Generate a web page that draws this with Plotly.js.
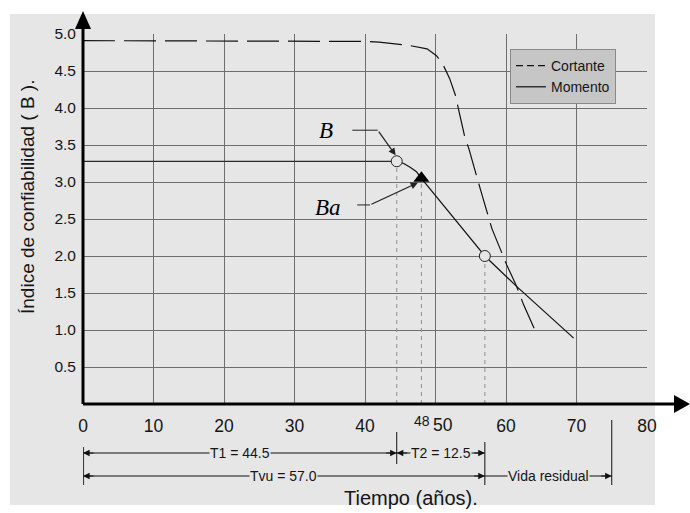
<!DOCTYPE html>
<html><head><meta charset="utf-8">
<script src="https://cdn.plot.ly/plotly-3.0.1.min.js"></script>
<style>html,body{margin:0;padding:0;background:#fff}#chart{width:690px;height:513px}</style>
</head><body><div id="chart"></div>
<script>
// ---- data ----
const cortanteX = [0, 10, 20, 30, 38, 40, 42, 44.5, 46, 48.8, 50.1, 51.0, 52.0, 52.8, 53.1, 54.2, 54.7, 55.9, 56.4, 58.0, 60.1, 61.5, 62.5, 64.1];
const cortanteY = [4.91, 4.91, 4.91, 4.91, 4.91, 4.90, 4.89, 4.87, 4.85, 4.80, 4.71, 4.60, 4.40, 4.18, 4.05, 3.59, 3.46, 3.03, 2.89, 2.37, 1.88, 1.59, 1.34, 1.00];
const momentoX = [44.5, 45.5, 46.4, 47.3, 48, 50.6, 57, 61.5, 69.6];
const momentoY = [3.28, 3.25, 3.20, 3.14, 3.05, 2.75, 2.00, 1.59, 0.89];
const T1 = 44.5;          // años
const T2 = 12.5;          // años
const Tvu = 57.0;         // años
const Tba = 48;           // año de Ba
const tResidual = 75;     // fin de vida residual
const betaB = 3.28;       // B
const betaBa = 3.05;      // Ba
const betaTvu = 2.0;
const xTicks = [0, 10, 20, 30, 40, 50, 60, 70, 80];
const xTickText = ['0', '10', '20', '30', '40', '', '60', '70', '80'];   // "50" is set beside "48" below
const yTicks = [0.5, 1.0, 1.5, 2.0, 2.5, 3.0, 3.5, 4.0, 4.5, 5.0];

const FONT = 'Liberation Sans, Arial, sans-serif';
const dark = '#151515';
const backdrop = '#e6e6e6';

const traces = [
  {x: [0, T1], y: [betaB, betaB], mode: 'lines', line: {color: '#2a2a2a', width: 1.2}, showlegend: false, hoverinfo: 'skip'},
  {x: [T1, T1], y: [0, betaB], mode: 'lines', line: {color: '#8f8f8f', width: 1, dash: '4px,4px'}, showlegend: false},
  {x: [Tba, Tba], y: [0, betaBa], mode: 'lines', line: {color: '#8f8f8f', width: 1, dash: '4px,4px'}, showlegend: false},
  {x: [Tvu, Tvu], y: [0, betaTvu], mode: 'lines', line: {color: '#8f8f8f', width: 1, dash: '4px,4px'}, showlegend: false},
  {x: cortanteX, y: cortanteY, name: 'Cortante', mode: 'lines', line: {color: '#111', width: 1.2, dash: '32px,9px'}, showlegend: false},
  {x: momentoX, y: momentoY, name: 'Momento', mode: 'lines', line: {color: '#111', width: 1.2}, showlegend: false},
  // legend entries (legend sample uses a short dash like the reference key)
  {x: [null], y: [null], name: 'Cortante', mode: 'lines', line: {color: '#111', width: 1.2, dash: '7px,4px'}, showlegend: true},
  {x: [null], y: [null], name: 'Momento', mode: 'lines', line: {color: '#111', width: 1.2}, showlegend: true},
  {x: [T1, Tvu], y: [betaB, betaTvu], mode: 'markers', showlegend: false,
   marker: {symbol: 'circle', size: 11, color: '#e6e6e6', line: {color: '#222', width: 1}}},
  {x: [Tba], y: [betaBa], mode: 'markers', showlegend: false,
   marker: {symbol: 'triangle-up', size: 14, color: '#000', line: {width: 0}}}
];

// pixel helpers for paper positions outside the plot (plot area: x 83..647, y 34..404)
const py = p => (404 - p) / 370;
const pxp = p => (p - 83) / 564;

const row1 = py(453), row2 = py(476);

function dimArrow(x, y, dir) {
  return {x: x, y: y, xref: 'x', yref: 'paper', ax: -dir * 12, ay: 0, axref: 'pixel', ayref: 'pixel',
    text: '', showarrow: true, arrowhead: 2, arrowsize: 1.1, arrowwidth: 1.2, arrowcolor: '#111', standoff: 0};
}
function dimText(x, y, t) {
  return {x: x, y: y, xref: 'x', yref: 'paper', text: t, showarrow: false,
    font: {family: FONT, size: 14, color: dark}, bgcolor: backdrop, borderpad: 0, xanchor: 'center', yanchor: 'middle'};
}

const shapes = [
  // soft grey backdrop
  {type: 'rect', xref: 'paper', yref: 'paper', x0: pxp(10), x1: pxp(655), y0: py(505), y1: py(14),
   fillcolor: backdrop, line: {width: 0}, layer: 'below'},
  // axes with arrows
  {type: 'line', xref: 'paper', yref: 'paper', x0: 0, x1: 0, y0: 0, y1: py(26), line: {color: '#000', width: 3}},
  {type: 'path', xref: 'paper', yref: 'paper', path: `M ${pxp(75)},${py(29)} L ${pxp(91)},${py(29)} L ${pxp(83)},${py(11)} Z`, fillcolor: '#000', line: {width: 0}},
  {type: 'line', xref: 'paper', yref: 'paper', x0: 0, x1: pxp(678), y0: 0, y1: 0, line: {color: '#000', width: 3}},
  {type: 'path', xref: 'paper', yref: 'paper', path: `M ${pxp(674)},${py(395)} L ${pxp(674)},${py(413)} L ${pxp(690)},${py(404)} Z`, fillcolor: '#000', line: {width: 0}},
  // dimension lines
  {type: 'line', xref: 'x', yref: 'paper', x0: 0, x1: Tvu, y0: row1, y1: row1, line: {color: '#111', width: 1}},
  {type: 'line', xref: 'x', yref: 'paper', x0: 0, x1: tResidual, y0: row2, y1: row2, line: {color: '#111', width: 1}},
  {type: 'line', xref: 'paper', yref: 'paper', x0: 0.001, x1: 0.001, y0: py(447), y1: py(485), line: {color: '#333', width: 1}},
  {type: 'line', xref: 'x', yref: 'paper', x0: T1, x1: T1, y0: py(432), y1: py(464), line: {color: '#111', width: 1}},
  {type: 'line', xref: 'x', yref: 'paper', x0: Tvu, x1: Tvu, y0: py(442), y1: py(485), line: {color: '#111', width: 1}},
  {type: 'line', xref: 'x', yref: 'paper', x0: tResidual, x1: tResidual, y0: py(420), y1: py(485), line: {color: '#111', width: 1}},
  // leader lines for B and Ba
  {type: 'line', xref: 'x', yref: 'y', x0: 38.2, x1: 41.8, y0: 3.70, y1: 3.70, line: {color: '#222', width: 1}},
  {type: 'line', xref: 'x', yref: 'y', x0: 38.9, x1: 40.7, y0: 2.69, y1: 2.69, line: {color: '#222', width: 1}}
];

const annotations = [
  // axis titles
  {xref: 'paper', yref: 'paper', x: pxp(27), y: py(197), xanchor: 'center', yanchor: 'middle',
   text: 'Índice de confiabilidad ( B ).', textangle: -90,
   showarrow: false, font: {family: FONT, size: 19, color: dark}},
  {xref: 'paper', yref: 'paper', x: pxp(411), y: py(498), xanchor: 'center', yanchor: 'middle',
   text: 'Tiempo (años).', showarrow: false, font: {family: FONT, size: 20, color: dark}},
  // 48 and 50 labels (50 nudged right of its grid line, as in the original)
  {xref: 'x', yref: 'paper', x: Tba + 0.05, y: py(421), xanchor: 'center', yanchor: 'middle', text: String(Tba), showarrow: false,
   font: {family: FONT, size: 14, color: dark}, borderpad: 0},
  {xref: 'x', yref: 'paper', x: 51.0, y: py(425), xanchor: 'center', yanchor: 'middle', text: '50', showarrow: false,
   font: {family: FONT, size: 17.5, color: dark}, borderpad: 0},
  // B and Ba labels
  {xref: 'x', yref: 'y', x: 34.5, y: 3.69, text: '<i>B</i>', showarrow: false,
   font: {family: 'Liberation Serif, Times New Roman, serif', size: 23, color: '#000'}},
  {xref: 'x', yref: 'y', x: 34.8, y: 2.66, text: '<i>Ba</i>', showarrow: false,
   font: {family: 'Liberation Serif, Times New Roman, serif', size: 23, color: '#000'}},
  {xref: 'x', yref: 'y', x: T1 - 0.15, y: betaB + 0.08, axref: 'x', ayref: 'y', ax: 41.8, ay: 3.70, text: '',
   showarrow: true, arrowhead: 2, arrowsize: 1.2, arrowwidth: 1.2, arrowcolor: '#222', standoff: 0},
  {xref: 'x', yref: 'y', x: Tba - 0.5, y: betaBa - 0.06, axref: 'x', ayref: 'y', ax: 40.7, ay: 2.69, text: '',
   showarrow: true, arrowhead: 2, arrowsize: 1.2, arrowwidth: 1.2, arrowcolor: '#222', standoff: 0},
  // dimension arrows
  dimArrow(0, row1, -1), dimArrow(T1, row1, 1), dimArrow(T1, row1, -1), dimArrow(Tvu, row1, 1),
  dimArrow(0, row2, -1), dimArrow(Tvu, row2, 1), dimArrow(tResidual, row2, 1),
  dimText(T1 / 2, row1, 'T1 = ' + T1.toFixed(1)),
  dimText((T1 + Tvu) / 2, row1, 'T2 = ' + T2.toFixed(1)),
  dimText(Tvu / 2, row2, 'Tvu = ' + Tvu.toFixed(1)),
  dimText((Tvu + tResidual) / 2, row2, 'Vida residual')
];

const layout = {
  width: 690, height: 513,
  margin: {l: 83, r: 43, t: 34, b: 109},
  paper_bgcolor: '#ffffff',
  plot_bgcolor: '#d8d8d8',
  font: {family: FONT, color: dark},
  showlegend: true,
  legend: {x: pxp(510), y: py(49), xanchor: 'left', yanchor: 'top', bgcolor: '#c6c6c6',
    bordercolor: '#8a8a8a', borderwidth: 1, font: {family: FONT, size: 14, color: dark}},
  xaxis: {range: [0, 80], tickvals: xTicks, ticktext: xTickText, showgrid: true, gridcolor: '#6e6e6e', gridwidth: 1,
    zeroline: false, showline: false, ticks: '', ticklabelstandoff: 9, tickfont: {family: FONT, size: 17.5, color: dark}, fixedrange: true},
  yaxis: {range: [0, 5], tickvals: yTicks, ticktext: yTicks.map(v => v.toFixed(1)), showgrid: true, gridcolor: '#6e6e6e', gridwidth: 1,
    zeroline: false, showline: false, ticks: '', ticklabelstandoff: 6, tickfont: {family: FONT, size: 15.5, color: dark}, fixedrange: true},
  shapes: shapes,
  annotations: annotations
};

Plotly.newPlot('chart', traces, layout, {displayModeBar: false, staticPlot: true});
</script></body></html>
